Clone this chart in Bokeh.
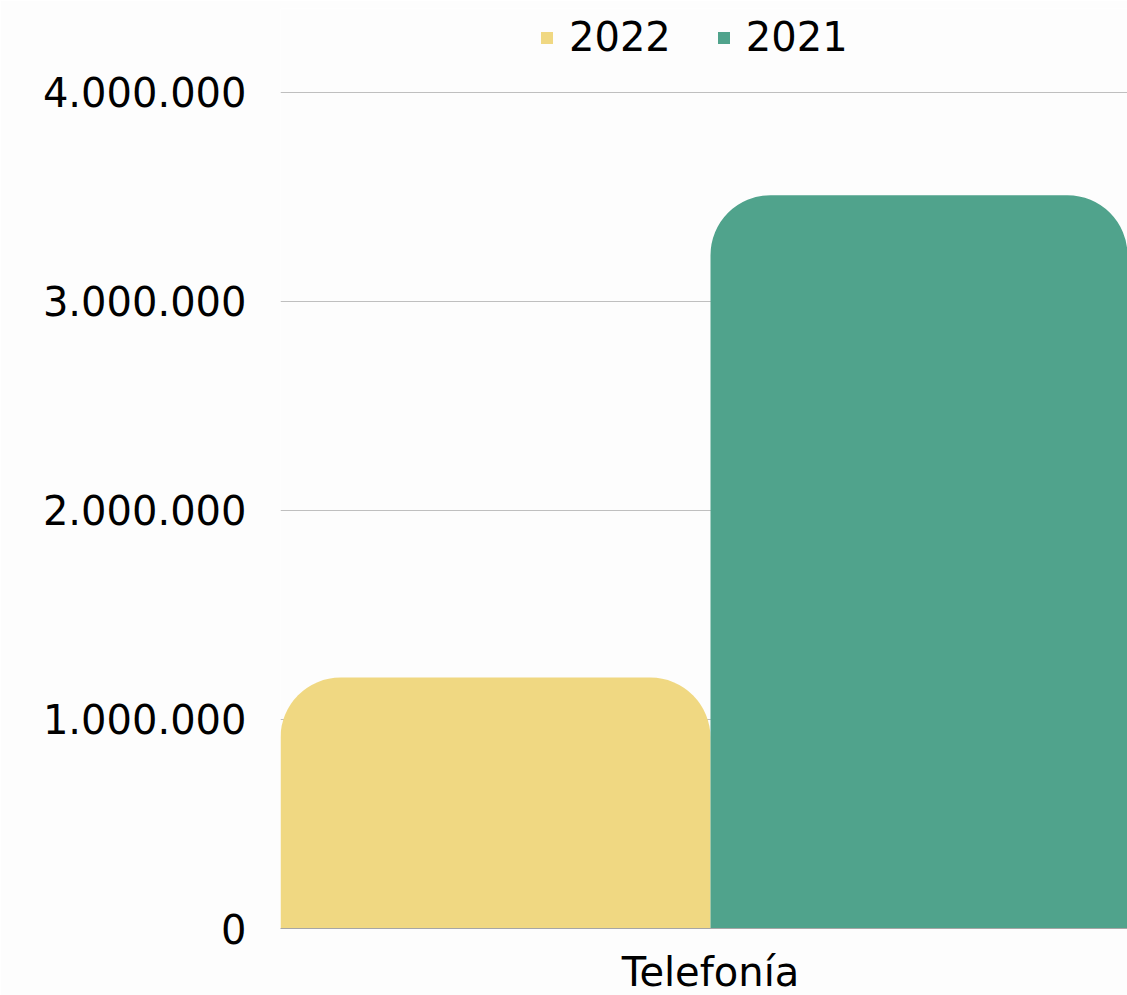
from bokeh.plotting import figure
from bokeh.models import Range1d, FixedTicker, Legend, LegendItem
from bokeh.embed import file_html
from bokeh.resources import INLINE

categories = ["Telefonía"]
years = ["2022", "2021"]
values_2022 = [1200000]
values_2021 = [3507000]
colors = ["#F0D882", "#50A38C"]
y_ticks = [0, 1000000, 2000000, 3000000, 4000000]
y_tick_labels = ["0", "1.000.000", "2.000.000", "3.000.000", "4.000.000"]

FONT = "DejaVu Sans"
series = [values_2022, values_2021]
n = len(series)

p = figure(frame_width=847, frame_height=920, output_backend="svg", toolbar_location=None,
           x_range=Range1d(0, 847 / 860), y_range=Range1d(0, 4400000),
           min_border_left=280, min_border_right=0, min_border_top=8,
           min_border_bottom=60)
p.background_fill_color = "#FDFDFD"
p.border_fill_color = "#FDFDFD"
p.outline_line_color = None

renderers = []
for j, vals in enumerate(series):
    xs = [i + (j + 0.5) / n for i in range(len(categories))]
    r = p.vbar(x=xs, top=vals, width=1.0 / n, bottom=0, fill_color=colors[j],
               line_color=None, border_radius=(60, 60, 0, 0))
    renderers.append(r)

legend = Legend(items=[LegendItem(label=years[j], renderers=[renderers[j]]) for j in range(n)],
                orientation="horizontal", location=(259, 866),
                label_text_font=FONT, label_text_font_size="40px", label_text_color="#000000",
                glyph_width=15, glyph_height=15, label_standoff=15, spacing=45,
                background_fill_alpha=0, border_line_color=None, padding=0, margin=0,
                label_height=50)
p.add_layout(legend, "center")

# x axis
p.xaxis.ticker = FixedTicker(ticks=[i + 0.5 for i in range(len(categories))])
p.xaxis.major_label_overrides = {i + 0.5: c for i, c in enumerate(categories)}
p.xaxis.major_tick_line_color = None
p.xaxis.major_tick_out = 0
p.xaxis.major_tick_in = 0
p.xaxis.minor_tick_line_color = None
p.xaxis.axis_line_color = "#A6A6A6"
p.xaxis.axis_line_width = 1
p.xaxis.major_label_text_font = FONT
p.xaxis.major_label_text_font_size = "40px"
p.xaxis.major_label_text_color = "#000000"
p.xaxis.major_label_standoff = 20
p.xgrid.grid_line_color = None

# y axis
p.yaxis.ticker = FixedTicker(ticks=y_ticks)
p.yaxis.major_label_overrides = dict(zip(y_ticks, y_tick_labels))
p.yaxis.axis_line_color = None
p.yaxis.major_tick_line_color = None
p.yaxis.major_tick_out = 0
p.yaxis.major_tick_in = 0
p.yaxis.minor_tick_line_color = None
p.yaxis.major_label_text_font = FONT
p.yaxis.major_label_text_font_size = "40px"
p.yaxis.major_label_text_color = "#000000"
p.yaxis.major_label_standoff = 34
p.ygrid.grid_line_color = "#BFBFBF"
p.ygrid.grid_line_width = 1

open("out.html", "w").write(file_html(p, INLINE))
